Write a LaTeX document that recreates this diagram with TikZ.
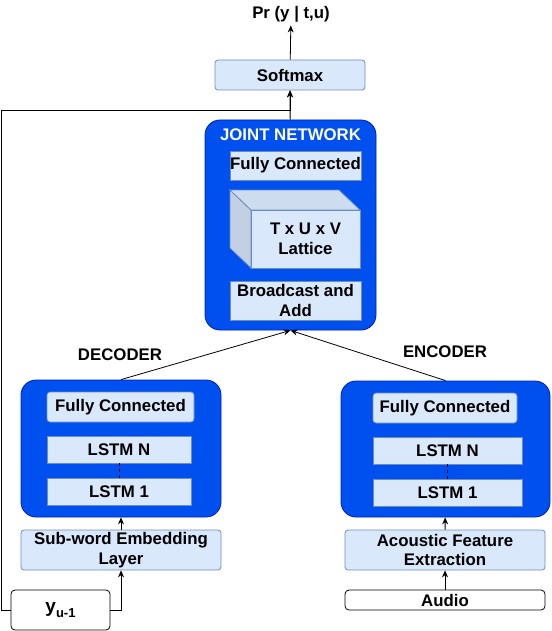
\documentclass[tikz,border=0pt]{standalone}
\usepackage{fontspec}
\setmainfont{Liberation Sans}
\usetikzlibrary{arrows.meta}
\definecolor{boxfill}{HTML}{DAE8FC}
\definecolor{boxline}{HTML}{6C8EBF}
\definecolor{grpfill}{HTML}{0050EF}
\definecolor{grpline}{HTML}{001DBC}
\definecolor{cubetop}{HTML}{CEDCF0}
\definecolor{cubeside}{HTML}{C3D0E3}
\begin{document}
\begin{tikzpicture}[x=1pt, y=-1pt,
	font=\fontsize{16.8}{19.5}\selectfont\bfseries,
	layer/.style={draw=boxline, fill=boxfill, line width=0.8pt, inner sep=0pt, align=center},
	rlayer/.style={layer, rounded corners=3pt},
	group/.style={draw=grpline, fill=grpfill, line width=0.8pt, rounded corners=15pt, inner sep=0pt},
	plain/.style={draw=black, fill=white, line width=0.8pt, rounded corners=4pt, inner sep=0pt},
	conn/.style={line width=0.8pt, -{Stealth[length=7pt, width=6pt]}}]
	\useasboundingbox (0, 0) rectangle (551, 631);

	\node (out) at (291, 14) {Pr (y | t,u)};
	\node[rlayer, minimum width=150, minimum height=30] (soft) at (290, 75) {Softmax};

	\node[group, minimum width=171, minimum height=210] (joint) at (290.5, 225) {};
	\node[text=white] (jtitle) at (290.5, 135) {JOINT NETWORK};
	\node[layer, minimum width=131, minimum height=29] (jfc) at (295.5, 165.5) {Fully Connected};
	\draw[draw=boxline, fill=cubeside, line width=0.8pt] (230, 190) -- (251, 210) -- (251, 268) -- (230, 248) -- cycle;
	\draw[draw=boxline, fill=cubetop, line width=0.8pt] (230, 190) -- (339, 190) -- (360, 210) -- (251, 210) -- cycle;
	\node[layer, minimum width=109, minimum height=58] (lattice) at (305.5, 239) {T x U x V\\Lattice};
	\node[layer, minimum width=131, minimum height=39] (jadd) at (295.5, 300.5) {Broadcast and\\Add};

	\node (declabel) at (120, 355) {DECODER};
	\node (enclabel) at (445, 352) {ENCODER};

	\node[group, minimum width=200, minimum height=137] (dec) at (121, 448.5) {};
	\node[rlayer, minimum width=147, minimum height=30] (decfc) at (120.5, 407) {Fully Connected};
	\node[layer, minimum width=144, minimum height=27] (decn) at (119, 449.5) {LSTM N};
	\node[layer, minimum width=144, minimum height=27] (dec1) at (119, 491.5) {LSTM 1};
	\node[rlayer, minimum width=200, minimum height=40] (emb) at (121, 550) {Sub-word Embedding\\Layer};
	\node[plain, minimum width=99, minimum height=40] (yin) at (60.5, 610) {\fontsize{19}{19}\selectfont y\raisebox{-0.45ex}{\fontsize{13}{13}\selectfont u-1}};

	\node[group, minimum width=209, minimum height=136] (enc) at (445.5, 449) {};
	\node[rlayer, minimum width=144, minimum height=30] (encfc) at (445, 408) {Fully Connected};
	\node[layer, minimum width=149, minimum height=27] (encn) at (447.5, 450.5) {LSTM N};
	\node[layer, minimum width=149, minimum height=27] (enc1) at (447.5, 492.5) {LSTM 1};
	\node[rlayer, minimum width=200, minimum height=40] (feat) at (445, 550) {Acoustic Feature\\Extraction};
	\node[plain, minimum width=200, minimum height=20] (audio) at (445, 600) {Audio};

	\coordinate (fb) at (1, 110);

	\draw[conn] (soft) -- (out);
	\draw[conn] (joint) -- (soft);
	\draw[conn] (yin.west) -| (fb) -| (soft.south);
	\draw[conn] (yin.east) -| (emb.south);
	\draw[conn] (emb) -- (dec);
	\draw[conn] (dec.north) -- (joint.south);
	\draw[conn] (audio) -- (feat);
	\draw[conn] (feat) -- (enc);
	\draw[conn] (enc.north) -- (joint.south);
	\draw[dashed, line width=0.6pt] (decn) -- (dec1);
	\draw[dashed, line width=0.6pt] (encn) -- (enc1);
\end{tikzpicture}
\end{document}
